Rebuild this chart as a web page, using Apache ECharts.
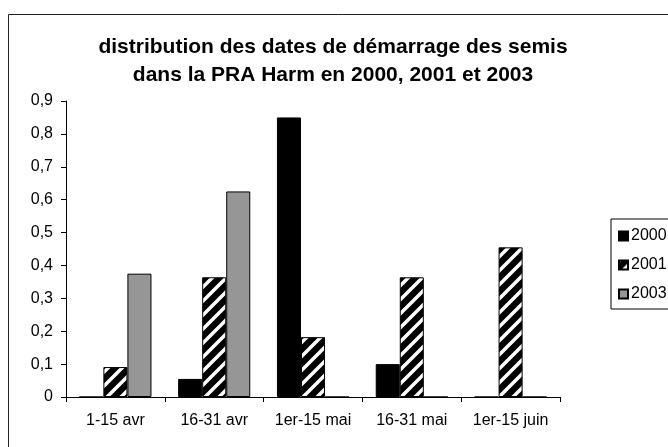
<!DOCTYPE html>
<html>
<head>
<meta charset="utf-8">
<script src="https://cdn.jsdelivr.net/npm/echarts@6/dist/echarts.min.js"></script>
<style>
  html, body { margin: 0; padding: 0; background: #fff; }
  #chart { width: 668px; height: 447px; }
</style>
</head>
<body>
<div id="chart"></div>
<script>
// Sowing start periods
const categories = ['1-15 avr', '16-31 avr', '1er-15 mai', '16-31 mai', '1er-15 juin'];
const years = ['2000', '2001', '2003'];
const values2000 = [0, 0.055, 0.85, 0.1, 0];
const values2001 = [0.091, 0.364, 0.182, 0.364, 0.455];
const values2003 = [0.375, 0.625, 0, 0, 0];

// Diagonal white stripes on black for the 2001 series
function stripePattern() {
  const s = 14;
  const c = document.createElement('canvas');
  c.width = s; c.height = s;
  const g = c.getContext('2d');
  g.fillStyle = '#000';
  g.fillRect(0, 0, s, s);
  g.strokeStyle = '#fff';
  g.lineWidth = 3.5;
  g.beginPath();
  g.moveTo(0, s); g.lineTo(s, 0);
  g.moveTo(-3, 3); g.lineTo(3, -3);
  g.moveTo(s - 3, s + 3); g.lineTo(s + 3, s - 3);
  g.stroke();
  return { image: c, repeat: 'repeat' };
}

const fills = ['#000000', stripePattern(), '#969696'];
const seriesValues = [values2000, values2001, values2003];
const font = 'Liberation Sans, Arial, sans-serif';

const chart = echarts.init(document.getElementById('chart'));
chart.setOption({
  animation: false,
  backgroundColor: '#fff',
  title: {
    text: 'distribution des dates de démarrage des semis\ndans la PRA Harm en 2000, 2001 et 2003',
    left: 333,
    textAlign: 'center',
    top: 33,
    padding: 0,
    textStyle: { fontFamily: font, fontSize: 21, fontWeight: 'bold', color: '#000', lineHeight: 28 }
  },
  legend: {
    orient: 'vertical',
    left: 611,
    top: 219,
    padding: [9, 40, 7, 7],
    borderColor: '#000',
    borderWidth: 1,
    itemWidth: 9,
    itemHeight: 9,
    itemGap: 13,
    icon: 'rect',
    textStyle: { fontFamily: font, fontSize: 16, color: '#000', padding: [0, 0, 0, -2] },
    data: years
  },
  grid: { left: 66, right: 108, top: 101, bottom: 50 },
  xAxis: {
    type: 'category',
    data: categories,
    axisLine: { lineStyle: { color: '#000', width: 1 } },
    axisTick: { show: true, length: 5, lineStyle: { color: '#000' } },
    axisLabel: { fontFamily: font, fontSize: 16, color: '#000', margin: 16, interval: 0, hideOverlap: false }
  },
  yAxis: {
    type: 'value',
    min: 0,
    max: 0.9,
    interval: 0.1,
    splitLine: { show: false },
    axisLine: { show: true, lineStyle: { color: '#000', width: 1 } },
    axisTick: { show: true, length: 5, lineStyle: { color: '#000' } },
    axisLabel: {
      fontFamily: font, fontSize: 16, color: '#000', margin: 13,
      formatter: v => String(Math.round(v * 10) / 10).replace('.', ',')
    }
  },
  series: years.map((y, i) => ({
    name: y,
    type: 'bar',
    data: seriesValues[i],
    barGap: '0%',
    barCategoryGap: '27%',
    itemStyle: { color: fills[i], borderColor: '#000', borderWidth: 1 }
  })),
  graphic: [{
    type: 'rect',
    shape: { x: 8.5, y: 14.5, width: 700, height: 460 },
    style: { fill: 'none', stroke: '#222', lineWidth: 1 },
    silent: true,
    z: 100
  }]
});
</script>
</body>
</html>
